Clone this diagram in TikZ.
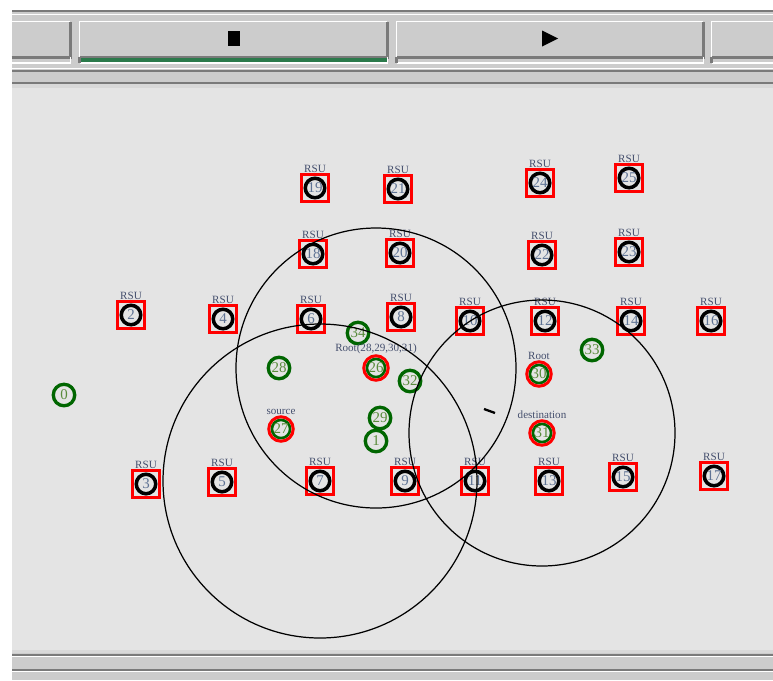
\documentclass[tikz,border=0pt]{standalone}
\usepackage{fontspec}
\setmainfont{Liberation Serif}
\usepackage{xcolor}
\usepackage{tikz}
\usetikzlibrary{positioning,calc}

\definecolor{canvas}{HTML}{E4E4E4}
\definecolor{panel}{HTML}{CCCCCC}
\definecolor{light}{HTML}{D8D8D8}
\definecolor{edge}{HTML}{7A7A7A}
\definecolor{cargreen}{HTML}{006600}
\definecolor{numblue}{HTML}{5F7394}
\definecolor{numgreen}{HTML}{5A8C3C}
\definecolor{lblblue}{HTML}{46506E}
\definecolor{runbar}{HTML}{2B7A4B}

\begin{document}
\begin{tikzpicture}[
    x=0.02cm, y=-0.02cm,
    lbl/.style={font=\fontsize{6.3}{7}\selectfont, text=lblblue, inner sep=0.3pt},
    rsu/.style={rectangle, draw=red, line width=1.5pt, minimum size=0.53cm, inner sep=0pt, text=numblue, font=\fontsize{8.5}{9}\selectfont,
      path picture={\draw[black, line width=2pt] (path picture bounding box.center) circle (0.195cm);},
      label={[lbl]above:RSU}},
    car/.style={circle, draw=cargreen, line width=1.9pt, minimum size=0.43cm, inner sep=0pt, text=numgreen, font=\fontsize{8.5}{9}\selectfont},
    hub/.style={car, draw=red, line width=1.7pt, minimum size=0.49cm,
      path picture={\draw[cargreen, line width=1.5pt] (path picture bounding box.center) circle (0.182cm);}},
    txrange/.style={draw=black, line width=0.7pt},
    btn/.style={fill=panel, inner sep=0pt, minimum height=0.7cm},
    strip/.style={inner sep=0pt, minimum height=0.1cm},
    hi/.style={draw=white, line width=0.9pt},
    lo/.style={draw=edge, line width=1.4pt}
  ]
    \useasboundingbox (0,0) rectangle (773,680);
    \fill[white] (0,0) rectangle (773,680);
    \fill[panel] (12,10) rectangle (773,88);
    \fill[canvas] (12,88) rectangle (773,650);
    \fill[panel] (12,650) rectangle (773,680);
    \draw[edge, line width=1.1pt] (12,11) -- (773,11);
    \draw[white, line width=0.6pt] (12,14.5) -- (773,14.5);
    \draw[white, line width=0.6pt] (12,68.5) -- (773,68.5);
    \draw[edge, line width=1.1pt] (12,71) -- (773,71);
    \draw[edge, line width=1.1pt] (12,83) -- (773,83);
    \fill[light] (12,84) rectangle (773,88);
    \fill[light] (12,650) rectangle (773,652.5);
    \draw[edge, line width=1.1pt] (12,655) -- (773,655);
    \draw[white, line width=0.6pt] (12,656.8) -- (773,656.8);
    \draw[edge, line width=1.1pt] (12,670) -- (773,670);
    \draw[white, line width=0.6pt] (12,671.8) -- (773,671.8);

    \node[btn, minimum width=1.16cm] (b1) at (41,39.5) {};
    \node[btn, minimum width=6.14cm] (b2) at (233.5,39.5) {};
    \node[btn, minimum width=6.12cm] (b3) at (550,39.5) {};
    \node[btn, minimum width=1.4cm] (b4) at (747,39.5) {};
    \draw[hi] (b1.south west) |- (b1.north east);
    \draw[lo] (b1.south west) -| (b1.north east);
    \draw[hi] (b2.south west) |- (b2.north east);
    \draw[lo] (b2.south west) -| (b2.north east);
    \draw[hi] (b3.south west) |- (b3.north east);
    \draw[lo] (b3.south west) -| (b3.north east);
    \draw[hi] (b4.south west) |- (b4.north east);
    \draw[lo] (b4.south west) -| (b4.north east);

    \node[strip, minimum width=1.16cm, below=0pt of b1] (s1) {};
    \node[strip, minimum width=6.14cm, fill=runbar, below=0pt of b2] (s2) {};
    \node[strip, minimum width=6.12cm, below=0pt of b3] (s3) {};
    \node[strip, minimum width=1.4cm, below=0pt of b4] (s4) {};
    \draw[hi] (s1.south west) -| (s1.north east);
    \draw[hi] (s2.south west) -| (s2.north east);
    \draw[lo] (s2.north west) -- (s2.south west);
    \draw[hi] (s3.south west) -| (s3.north east);
    \draw[lo] (s3.north west) -- (s3.south west);
    \draw[hi] (s4.south west) -| (s4.north east);
    \draw[lo] (s4.north west) -- (s4.south west);

    \node[fill=black, inner sep=0pt, minimum width=0.24cm, minimum height=0.3cm] (stopicon) at ($(b2.center)+(0,-1)$) {};
    \fill[black] ($(b3.center)+(-8,-9)$) -- ++(0,16) -- ++(16,-8) -- cycle;

    \node[rsu] (n19) at (315,188) {19};
    \node[rsu] (n21) at (398,189) {21};
    \node[rsu] (n24) at (540,183) {24};
    \node[rsu] (n25) at (629,178) {25};
    \node[rsu] (n18) at (313,254) {18};
    \node[rsu] (n20) at (400,253) {20};
    \node[rsu] (n22) at (542,255) {22};
    \node[rsu] (n23) at (629,252) {23};
    \node[rsu] (n2) at (131,315) {2};
    \node[rsu] (n4) at (223,319) {4};
    \node[rsu] (n6) at (311,319) {6};
    \node[rsu] (n8) at (401,317) {8};
    \node[rsu] (n10) at (470,321) {10};
    \node[rsu] (n12) at (545,321) {12};
    \node[rsu] (n14) at (631,321) {14};
    \node[rsu] (n16) at (711,321) {16};
    \node[rsu] (n3) at (146,484) {3};
    \node[rsu] (n5) at (222,482) {5};
    \node[rsu] (n7) at (320,481) {7};
    \node[rsu] (n9) at (405,481) {9};
    \node[rsu] (n11) at (475,481) {11};
    \node[rsu] (n13) at (549,481) {13};
    \node[rsu] (n15) at (623,477) {15};
    \node[rsu] (n17) at (714,476) {17};

    \node[car] (n0) at (64,395) {0};
    \node[car] (n1) at (376,441) {1};
    \node[car] (n28) at (279,368) {28};
    \node[car] (n29) at (380,418) {29};
    \node[car] (n32) at (410,381) {32};
    \node[car] (n33) at (592,350) {33};
    \node[car] (n34) at (358,333) {34};
    \node[hub, label={[lbl]above:{Root(28,29,30,31)}}] (n26) at (376,368) {26};
    \node[hub, label={[lbl]above:source}] (n27) at (281,429) {27};
    \node[hub, label={[lbl]above:Root}] (n30) at (539,374) {30};
    \node[hub, label={[lbl]above:destination}] (n31) at (542,433) {31};

    \draw[txrange] (n26) circle (140);
    \draw[txrange] (n7) circle (157);
    \draw[txrange] (n31) circle (133);

    \coordinate (d1) at (484,409);
    \coordinate (d2) at (495,413);
    \draw[line width=1.3pt] (d1) -- (d2);
  \end{tikzpicture}
\end{document}
